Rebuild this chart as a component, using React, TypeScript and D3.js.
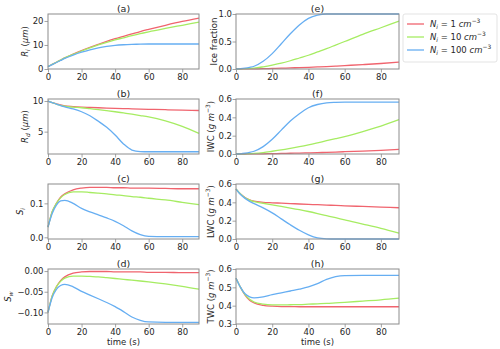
import React, { useEffect, useRef } from "react";
import * as d3 from "d3";

const W = 500;
const H = 349;

// time axis (s)
const time = [0, 2.5, 5, 7.5, 10, 15, 20, 25, 30, 35, 40, 45, 50, 55, 60, 70, 80, 90];

// (a) ice crystal radius R_i (um)
const riRed = [1, 1.9, 2.8, 3.7, 4.6, 6.2, 7.7, 9.05, 10.3, 11.5, 12.6, 13.6, 14.6, 15.6, 16.5, 18.2, 19.8, 21.2];
const riGreen = [1, 1.9, 2.8, 3.7, 4.6, 6.1, 7.5, 8.8, 10.0, 11.1, 12.1, 13.0, 13.9, 14.7, 15.5, 16.9, 18.2, 19.5];
const riBlue = [1, 1.85, 2.7, 3.55, 4.4, 5.8, 7.0, 8.0, 8.8, 9.4, 9.85, 10.1, 10.25, 10.35, 10.4, 10.4, 10.4, 10.4];

// (b) droplet radius R_d (um)
const rdRed = [10, 9.75, 9.55, 9.35, 9.2, 9.08, 9.0, 8.95, 8.9, 8.85, 8.8, 8.77, 8.73, 8.69, 8.65, 8.58, 8.51, 8.45];
const rdGreen = [10, 9.75, 9.5, 9.3, 9.15, 9.0, 8.9, 8.75, 8.6, 8.43, 8.25, 8.05, 7.85, 7.63, 7.4, 6.75, 5.85, 4.7];
const rdBlue = [10, 9.75, 9.5, 9.25, 9.05, 8.7, 8.25, 7.6, 6.7, 5.7, 4.45, 3.0, 2.0, 1.75, 1.72, 1.72, 1.72, 1.72];

// (c) supersaturation over ice S_i
const siRed = [0.03, 0.075, 0.1, 0.118, 0.128, 0.14, 0.145, 0.147, 0.147, 0.147, 0.146, 0.146, 0.145, 0.145, 0.145, 0.144, 0.143, 0.143];
const siGreen = [0.03, 0.075, 0.1, 0.116, 0.126, 0.134, 0.134, 0.132, 0.13, 0.128, 0.125, 0.123, 0.12, 0.118, 0.115, 0.11, 0.103, 0.096];
const siBlue = [0.03, 0.07, 0.095, 0.107, 0.109, 0.1, 0.085, 0.075, 0.066, 0.057, 0.047, 0.034, 0.019, 0.008, 0.003, 0.002, 0.002, 0.002];

// (d) supersaturation over water S_w
const swRed = [-0.1, -0.06, -0.038, -0.023, -0.014, -0.005, -0.002, -0.001, -0.001, -0.001, -0.002, -0.002, -0.002, -0.002, -0.003, -0.003, -0.004, -0.004];
const swGreen = [-0.1, -0.06, -0.038, -0.025, -0.017, -0.012, -0.012, -0.013, -0.014, -0.016, -0.018, -0.02, -0.022, -0.024, -0.026, -0.031, -0.037, -0.044];
const swBlue = [-0.1, -0.064, -0.044, -0.035, -0.032, -0.038, -0.049, -0.058, -0.067, -0.076, -0.086, -0.098, -0.111, -0.119, -0.123, -0.124, -0.124, -0.124];

// (e) ice fraction
const ifRed = [0, 0, 0.001, 0.002, 0.003, 0.006, 0.01, 0.015, 0.02, 0.025, 0.03, 0.037, 0.045, 0.053, 0.062, 0.08, 0.1, 0.125];
const ifGreen = [0, 0.002, 0.005, 0.01, 0.016, 0.04, 0.07, 0.105, 0.15, 0.2, 0.25, 0.31, 0.37, 0.435, 0.5, 0.63, 0.75, 0.87];
const ifBlue = [0, 0.005, 0.015, 0.03, 0.05, 0.14, 0.28, 0.46, 0.64, 0.8, 0.92, 0.98, 1, 1, 1, 1, 1, 1];

// (f) IWC (g m-3)
const iwcRed = [0, 0, 0, 0.001, 0.001, 0.002, 0.004, 0.006, 0.008, 0.01, 0.012, 0.015, 0.018, 0.021, 0.025, 0.032, 0.04, 0.05];
const iwcGreen = [0, 0.001, 0.002, 0.004, 0.007, 0.016, 0.03, 0.045, 0.062, 0.08, 0.1, 0.122, 0.145, 0.167, 0.19, 0.245, 0.305, 0.375];
const iwcBlue = [0, 0.002, 0.008, 0.017, 0.03, 0.08, 0.16, 0.26, 0.36, 0.44, 0.505, 0.54, 0.558, 0.563, 0.565, 0.565, 0.565, 0.565];

// (g) LWC (g m-3)
const lwcRed = [0.545, 0.49, 0.452, 0.427, 0.412, 0.4, 0.395, 0.391, 0.387, 0.382, 0.378, 0.374, 0.37, 0.366, 0.362, 0.355, 0.348, 0.341];
const lwcGreen = [0.545, 0.49, 0.45, 0.425, 0.407, 0.39, 0.372, 0.355, 0.338, 0.32, 0.3, 0.278, 0.255, 0.232, 0.208, 0.163, 0.117, 0.065];
const lwcBlue = [0.545, 0.485, 0.443, 0.41, 0.385, 0.34, 0.285, 0.22, 0.155, 0.095, 0.045, 0.012, 0.002, 0, 0, 0, 0, 0];

// (h) TWC (g m-3)
const twcRed = [0.55, 0.5, 0.458, 0.43, 0.415, 0.402, 0.397, 0.395, 0.395, 0.394, 0.394, 0.394, 0.394, 0.394, 0.394, 0.394, 0.394, 0.394];
const twcGreen = [0.55, 0.5, 0.46, 0.435, 0.42, 0.408, 0.404, 0.404, 0.405, 0.406, 0.408, 0.41, 0.412, 0.415, 0.418, 0.425, 0.432, 0.441];
const twcBlue = [0.55, 0.5, 0.465, 0.448, 0.442, 0.448, 0.46, 0.47, 0.48, 0.49, 0.502, 0.52, 0.543, 0.558, 0.564, 0.565, 0.565, 0.565];

const xTicks = [0, 20, 40, 60, 80];
const legendNumbers = ["1", "10", "100"];
const colors = ["#f0646e", "#a6ec62", "#66aef2"];

type Part = { t: string; it?: boolean; sub?: boolean; sup?: boolean };

const gm3: Part[] = [
  { t: " (" },
  { t: "g m", it: true },
  { t: "−3", sup: true },
  { t: ")" },
];

const panels = [
  { title: "(a)", col: 0, row: 0, domain: [0, 22.9], ticks: [0, 10, 20], fmt: "d", labelX: 28,
    label: [{ t: "R", it: true }, { t: "i", it: true, sub: true }, { t: " (" }, { t: "μm", it: true }, { t: ")" }] as Part[],
    series: [riRed, riGreen, riBlue] },
  { title: "(b)", col: 0, row: 1, domain: [1.35, 10.33], ticks: [5, 10], fmt: "d", labelX: 28,
    label: [{ t: "R", it: true }, { t: "d", it: true, sub: true }, { t: " (" }, { t: "μm", it: true }, { t: ")" }] as Part[],
    series: [rdRed, rdGreen, rdBlue] },
  { title: "(c)", col: 0, row: 2, domain: [-0.005, 0.157], ticks: [0, 0.1], fmt: ".1f", labelX: 23,
    label: [{ t: "S", it: true }, { t: "i", it: true, sub: true }] as Part[],
    series: [siRed, siGreen, siBlue] },
  { title: "(d)", col: 0, row: 3, domain: [-0.128, 0.005], ticks: [-0.1, -0.05, 0], fmt: ".2f", labelX: 11,
    label: [{ t: "S", it: true }, { t: "w", it: true, sub: true }] as Part[],
    series: [swRed, swGreen, swBlue] },
  { title: "(e)", col: 1, row: 0, domain: [0, 1], ticks: [0, 0.5, 1], fmt: ".1f", labelX: 217,
    label: [{ t: "Ice fraction" }] as Part[],
    series: [ifRed, ifGreen, ifBlue] },
  { title: "(f)", col: 1, row: 1, domain: [0, 0.6], ticks: [0, 0.2, 0.4, 0.6], fmt: ".1f", labelX: 214,
    label: [{ t: "IWC" }, ...gm3] as Part[],
    series: [iwcRed, iwcGreen, iwcBlue] },
  { title: "(g)", col: 1, row: 2, domain: [0, 0.6], ticks: [0, 0.2, 0.4, 0.6], fmt: ".1f", labelX: 214,
    label: [{ t: "LWC" }, ...gm3] as Part[],
    series: [lwcRed, lwcGreen, lwcBlue] },
  { title: "(h)", col: 1, row: 3, domain: [0.3, 0.6], ticks: [0.3, 0.4, 0.5, 0.6], fmt: ".1f", labelX: 214,
    label: [{ t: "TWC" }, ...gm3] as Part[],
    series: [twcRed, twcGreen, twcBlue] },
];

const FONT = "DejaVu Sans, sans-serif";
const FS = 8.5;
const TXT = "#262626";
const SPINE = "#8c8c8c";

// mathtext-ish rich text with sub/superscripts
function addRich(text: any, parts: Part[], fs: number) {
  let shift = 0;
  parts.forEach((p) => {
    const target = p.sub ? fs * 0.28 : p.sup ? -fs * 0.42 : 0;
    const ts = text.append("tspan").attr("dy", target - shift).text(p.t);
    shift = target;
    if (p.it) ts.attr("font-style", "italic");
    if (p.sub || p.sup) ts.attr("font-size", fs * 0.7);
  });
}

export default function App() {
  const ref = useRef<SVGSVGElement>(null);

  useEffect(() => {
    const svg = d3.select(ref.current);
    svg.selectAll("*").remove();

    svg.append("rect").attr("width", W).attr("height", H).attr("fill", "white");

    panels.forEach((p) => {
      const x0 = p.col === 0 ? 48 : 236;
      const x1 = p.col === 0 ? 199 : 399;
      const y0 = 14 + p.row * 85;
      const y1 = y0 + 55;

      const x = d3.scaleLinear().domain([0, 90]).range([x0, x1]);
      const y = d3.scaleLinear().domain(p.domain).range([y1, y0]);

      const g = svg.append("g");

      // x axis
      const xa = g
        .append("g")
        .attr("transform", `translate(0,${y1})`)
        .call(d3.axisBottom(x).tickValues(xTicks).tickSize(3.5).tickPadding(1.2).tickFormat(d3.format("d")));
      // y axis
      const ya = g
        .append("g")
        .attr("transform", `translate(${x0},0)`)
        .call(
          d3.axisLeft(y).tickValues(p.ticks).tickSize(3.5).tickPadding(p.col === 0 ? 1 : 0.5)
            .tickFormat(d3.format(p.fmt))
        );
      [xa, ya].forEach((a) => {
        a.select(".domain").remove();
        a.attr("font-family", FONT).attr("font-size", FS);
        a.selectAll("line").attr("stroke", SPINE).attr("stroke-width", 0.8);
        a.selectAll("text").attr("fill", TXT);
      });

      // lines (red, green, blue -> blue on top)
      const line = d3
        .line<number>()
        .x((_, i) => x(time[i]))
        .y((d) => y(d))
        .curve(d3.curveMonotoneX);
      p.series.forEach((s, i) => {
        g.append("path")
          .attr("d", line(s))
          .attr("fill", "none")
          .attr("stroke", colors[i])
          .attr("stroke-width", 1.3);
      });

      // frame
      g.append("rect")
        .attr("x", x0)
        .attr("y", y0)
        .attr("width", x1 - x0)
        .attr("height", y1 - y0)
        .attr("fill", "none")
        .attr("stroke", SPINE)
        .attr("stroke-width", 1);

      // title
      g.append("text")
        .attr("x", (x0 + x1) / 2)
        .attr("y", y0 - 2.5)
        .attr("text-anchor", "middle")
        .attr("font-family", FONT)
        .attr("font-size", 9.5)
        .attr("fill", TXT)
        .text(p.title);

      // y label
      const lbl = g
        .append("text")
        .attr("transform", `translate(${p.labelX},${(y0 + y1) / 2}) rotate(-90)`)
        .attr("text-anchor", "middle")
        .attr("font-family", FONT)
        .attr("font-size", FS)
        .attr("fill", TXT)
        .style("white-space", "pre");
      addRich(lbl, p.label, FS);

      if (p.row === 3) {
        g.append("text")
          .attr("x", (x0 + x1) / 2)
          .attr("y", 345)
          .attr("text-anchor", "middle")
          .attr("font-family", FONT)
          .attr("font-size", FS)
          .attr("fill", TXT)
          .text("time (s)");
      }
    });

    // legend
    const lg = svg.append("g");
    lg.append("rect")
      .attr("x", 403)
      .attr("y", 14)
      .attr("width", 94)
      .attr("height", 48)
      .attr("rx", 2)
      .attr("fill", "white")
      .attr("stroke", "#dcdcdc")
      .attr("stroke-width", 0.8);
    legendNumbers.forEach((n, i) => {
      const ly = 24 + i * 13;
      lg.append("line")
        .attr("x1", 407)
        .attr("x2", 424)
        .attr("y1", ly)
        .attr("y2", ly)
        .attr("stroke", colors[i])
        .attr("stroke-width", 1.3);
      const t = lg
        .append("text")
        .attr("x", 430)
        .attr("y", ly + 3)
        .attr("font-family", FONT)
        .attr("font-size", FS)
        .attr("fill", TXT)
        .style("white-space", "pre");
      addRich(
        t,
        [
          { t: "N", it: true },
          { t: "i", it: true, sub: true },
          { t: ` = ${n} ` },
          { t: "cm", it: true },
          { t: "−3", sup: true },
        ],
        FS
      );
    });
  }, []);

  return (
    <svg
      ref={ref}
      width={W}
      height={H}
      style={{ position: "absolute", left: 0, top: 0, display: "block" }}
    />
  );
}
